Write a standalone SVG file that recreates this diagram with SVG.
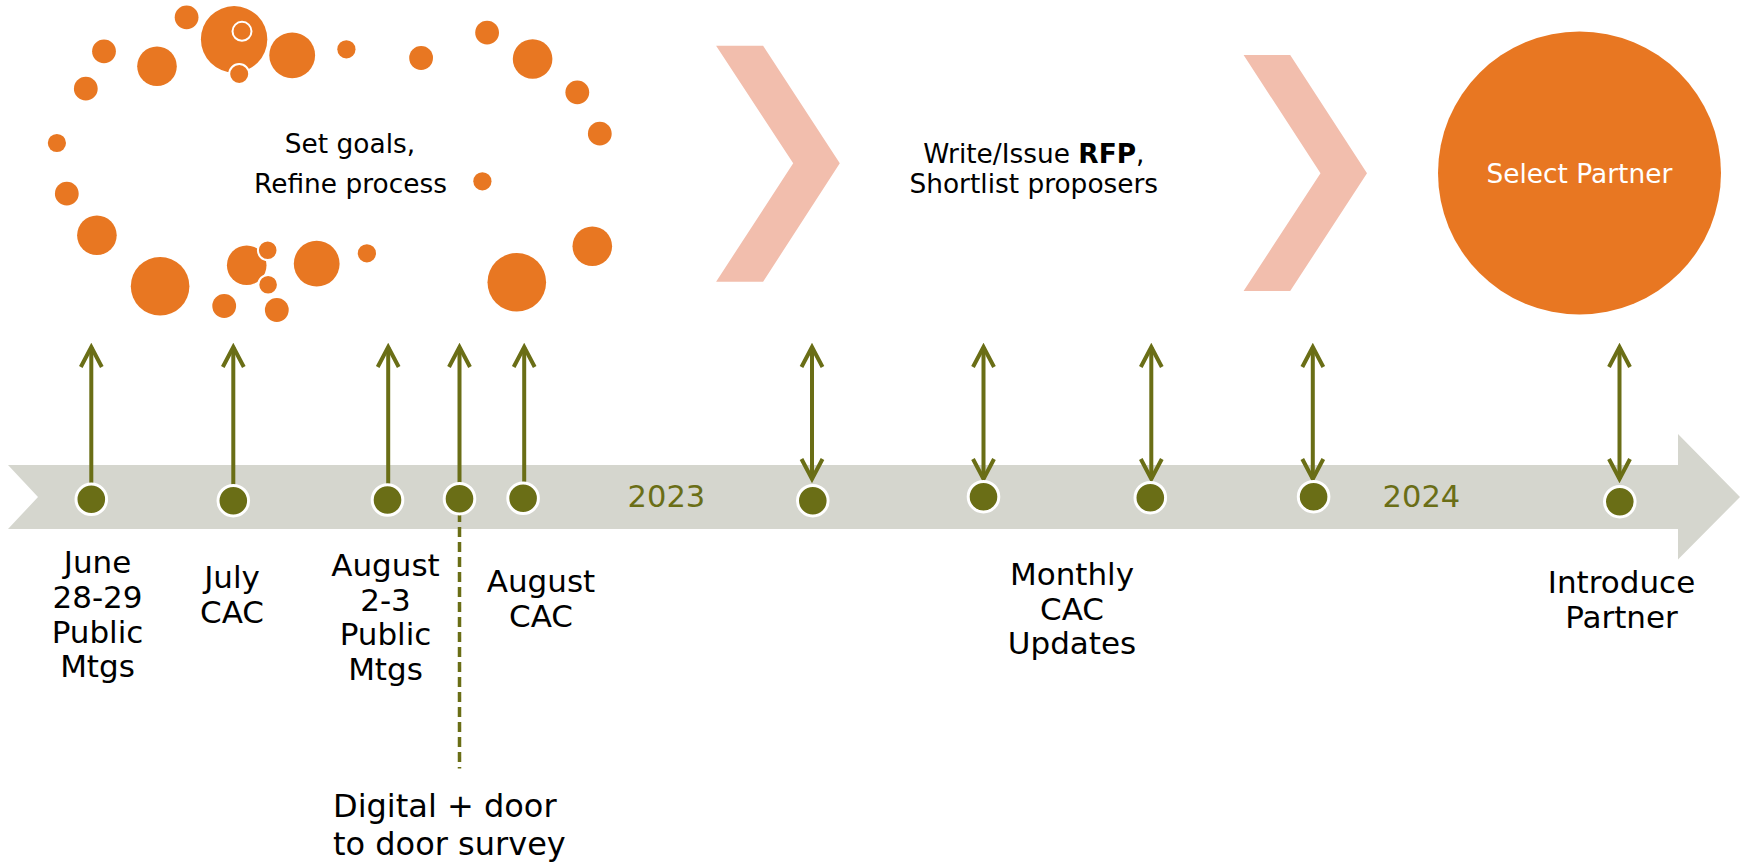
<svg xmlns="http://www.w3.org/2000/svg" width="1744" height="862" viewBox="0 0 1744 862">
  <style>
    .bub { fill: #E87722; }
    .bubw { fill: #E87722; stroke: #FFFFFF; stroke-width: 2; }
    .chev { fill: #F2BEAD; }
    .t { font-family: "DejaVu Sans", "Liberation Sans", sans-serif; fill: #000000; text-anchor: middle; }
    .top { font-size: 26.4px; }
    .lbl { font-size: 31px; }
    .yr { font-size: 30.5px; fill: #6A6E16; }
    .conn { stroke: #6A6E16; stroke-width: 4; fill: none; }
    .dash { stroke: #6A6E16; stroke-width: 3.5; fill: none; stroke-dasharray: 10 5; }
    .dot { fill: #6A6E16; stroke: #FFFFFF; stroke-width: 3; }
  </style>
  <defs>
    <marker id="head" markerUnits="userSpaceOnUse" viewBox="-26 -14 30 28" refX="0" refY="0" markerWidth="30" markerHeight="28" orient="auto-start-reverse">
      <path d="M -20 -10.5 L 0 0 L -20 10.5" fill="none" stroke="#6A6E16" stroke-width="4" stroke-linejoin="miter"/>
    </marker>
  </defs>
  <rect width="1744" height="862" fill="#FFFFFF"/>

  <g id="phase-goals">
    <circle class="bub" cx="186.6" cy="17.3" r="11.9"/>
    <circle class="bub" cx="234.1" cy="39.3" r="33.2"/>
    <circle class="bubw" cx="242" cy="31.3" r="9.5"/>
    <circle class="bubw" cx="239.2" cy="74" r="10"/>
    <circle class="bub" cx="104" cy="51.3" r="11.9"/>
    <circle class="bub" cx="157" cy="66.3" r="19.8"/>
    <circle class="bub" cx="292.2" cy="55.3" r="22.9"/>
    <circle class="bub" cx="346.4" cy="49.3" r="9.1"/>
    <circle class="bub" cx="421.1" cy="58" r="11.9"/>
    <circle class="bub" cx="487.1" cy="32.7" r="11.9"/>
    <circle class="bub" cx="532.6" cy="59" r="19.8"/>
    <circle class="bub" cx="577.3" cy="92.3" r="11.9"/>
    <circle class="bub" cx="599.8" cy="133.7" r="11.9"/>
    <circle class="bub" cx="482.4" cy="181.3" r="9.1"/>
    <circle class="bub" cx="592.3" cy="246.3" r="19.8"/>
    <circle class="bub" cx="516.8" cy="282.3" r="29.3"/>
    <circle class="bub" cx="366.9" cy="253.3" r="9.1"/>
    <circle class="bub" cx="316.7" cy="263.7" r="22.9"/>
    <circle class="bub" cx="246.7" cy="265.3" r="19.8"/>
    <circle class="bubw" cx="267.7" cy="250.3" r="9.8"/>
    <circle class="bubw" cx="268.1" cy="284.7" r="9.8"/>
    <circle class="bub" cx="276.8" cy="310" r="11.9"/>
    <circle class="bub" cx="224.2" cy="306" r="11.9"/>
    <circle class="bub" cx="160.1" cy="286.3" r="29.3"/>
    <circle class="bub" cx="96.9" cy="235.3" r="19.8"/>
    <circle class="bub" cx="66.8" cy="193.7" r="11.9"/>
    <circle class="bub" cx="56.9" cy="143" r="9.1"/>
    <circle class="bub" cx="85.8" cy="88.7" r="11.9"/>
    <text class="t top" x="350" y="153.3">Set goals,</text>
    <text class="t top" x="350.5" y="192.7">Refine process</text>
  </g>

  <g id="chevron-1">
    <polygon class="chev" points="716.1,45.7 763.1,45.7 839.8,163.3 763.1,281.7 716.1,281.7 793.2,163.3"/>
  </g>

  <g id="phase-rfp">
    <text class="t top" x="1033.8" y="163.3">Write/Issue <tspan font-weight="bold">RFP</tspan>,</text>
    <text class="t top" x="1033.8" y="192.7">Shortlist proposers</text>
  </g>

  <g id="chevron-2">
    <polygon class="chev" points="1243.6,55 1290.2,55 1367,173.3 1290.2,291 1243.6,291 1320.5,173.3"/>
  </g>

  <g id="phase-select">
    <circle cx="1579.5" cy="173" r="141.5" fill="#E87722"/>
    <text class="t top" x="1579.4" y="182.7" style="fill:#FFFFFF" font-size="26.5">Select Partner</text>
  </g>

  <g id="timeline">
    <polygon points="8,465 1678,465 1678,434 1740,497 1678,559.5 1678,529 8,529 38,497" fill="#D5D6CE"/>
    <text class="t yr" x="666.4" y="506.7">2023</text>
    <text class="t yr" x="1421.4" y="506.7">2024</text>
  </g>

  <g id="connectors">
    <line class="conn" x1="91.3" y1="490" x2="91.3" y2="347" marker-end="url(#head)"/>
    <line class="conn" x1="233.3" y1="490" x2="233.3" y2="347" marker-end="url(#head)"/>
    <line class="conn" x1="388.2" y1="490" x2="388.2" y2="347" marker-end="url(#head)"/>
    <line class="conn" x1="459.5" y1="490" x2="459.5" y2="347" marker-end="url(#head)"/>
    <line class="conn" x1="524.2" y1="490" x2="524.2" y2="347" marker-end="url(#head)"/>
    <line class="dash" x1="459.5" y1="512" x2="459.5" y2="768.5"/>
    <line class="conn" x1="812" y1="347" x2="812" y2="479" marker-start="url(#head)" marker-end="url(#head)"/>
    <line class="conn" x1="983.5" y1="347" x2="983.5" y2="479" marker-start="url(#head)" marker-end="url(#head)"/>
    <line class="conn" x1="1151.3" y1="347" x2="1151.3" y2="479" marker-start="url(#head)" marker-end="url(#head)"/>
    <line class="conn" x1="1312.8" y1="347" x2="1312.8" y2="479" marker-start="url(#head)" marker-end="url(#head)"/>
    <line class="conn" x1="1619.5" y1="347" x2="1619.5" y2="479" marker-start="url(#head)" marker-end="url(#head)"/>
  </g>

  <g id="dots">
    <circle class="dot" cx="91.3" cy="499.3" r="15.3"/>
    <circle class="dot" cx="233.3" cy="500.7" r="15.3"/>
    <circle class="dot" cx="387.5" cy="500" r="15.3"/>
    <circle class="dot" cx="459.5" cy="498.7" r="15.3"/>
    <circle class="dot" cx="523.1" cy="498.3" r="15.3"/>
    <circle class="dot" cx="812.8" cy="500.7" r="15.3"/>
    <circle class="dot" cx="983.5" cy="496.7" r="15.3"/>
    <circle class="dot" cx="1150.3" cy="497.7" r="15.3"/>
    <circle class="dot" cx="1313.6" cy="496.7" r="15.3"/>
    <circle class="dot" cx="1619.8" cy="501.7" r="15.3"/>
  </g>

  <g id="label-june">
    <text class="t lbl" x="97.5" y="572.7">June</text>
    <text class="t lbl" x="97.5" y="607.7">28-29</text>
    <text class="t lbl" x="97.5" y="643">Public</text>
    <text class="t lbl" x="97.5" y="677">Mtgs</text>
  </g>
  <g id="label-july">
    <text class="t lbl" x="232" y="587.7">July</text>
    <text class="t lbl" x="232" y="622.7">CAC</text>
  </g>
  <g id="label-august-mtgs">
    <text class="t lbl" x="385.5" y="576">August</text>
    <text class="t lbl" x="385.5" y="610.5">2-3</text>
    <text class="t lbl" x="385.5" y="645">Public</text>
    <text class="t lbl" x="385.5" y="680">Mtgs</text>
  </g>
  <g id="label-august-cac">
    <text class="t lbl" x="541" y="591.7">August</text>
    <text class="t lbl" x="541" y="626.7">CAC</text>
  </g>
  <g id="label-survey">
    <text class="t lbl" x="333" y="816.7" style="text-anchor:start;font-size:32px">Digital + door</text>
    <text class="t lbl" x="333" y="855" style="text-anchor:start;font-size:32px">to door survey</text>
  </g>
  <g id="label-monthly">
    <text class="t lbl" x="1072" y="585">Monthly</text>
    <text class="t lbl" x="1072" y="619.5">CAC</text>
    <text class="t lbl" x="1072" y="654">Updates</text>
  </g>
  <g id="label-introduce">
    <text class="t lbl" x="1621.5" y="593.3">Introduce</text>
    <text class="t lbl" x="1621.5" y="628.3">Partner</text>
  </g>
</svg>
